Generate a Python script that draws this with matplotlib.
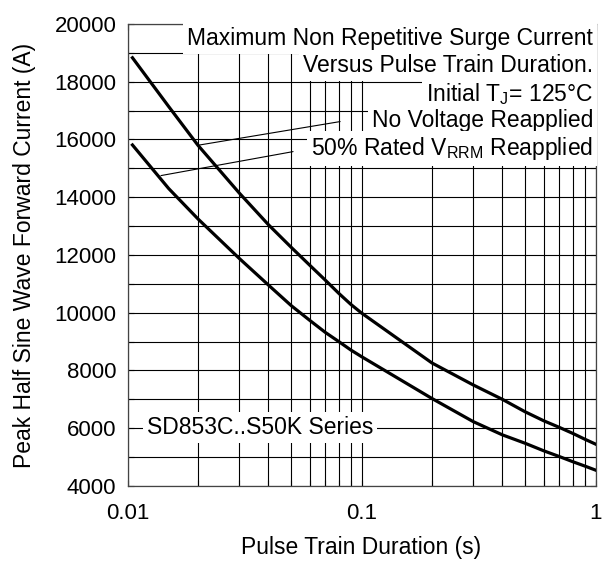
import matplotlib
matplotlib.use("Agg")
import matplotlib.pyplot as plt
from matplotlib.ticker import FixedLocator, NullFormatter

plt.rcParams['font.family'] = ['Liberation Sans', 'DejaVu Sans']
plt.rcParams['mathtext.default'] = 'regular'

# pulse train duration (s)
duration = [0.0105, 0.015, 0.02, 0.03, 0.04, 0.05, 0.06, 0.07, 0.08, 0.09,
            0.1, 0.2, 0.3, 0.4, 0.5, 0.6, 0.7, 0.8, 0.9, 1.0]
# peak current (A), no voltage reapplied
no_voltage = [18830, 17140, 15800, 14150, 13050, 12270, 11650, 11130, 10670, 10290,
              9990, 8260, 7500, 7000, 6570, 6260, 6030, 5820, 5620, 5450]
# peak current (A), 50% rated VRRM reapplied
half_vrrm = [15810, 14300, 13250, 11885, 10960, 10250, 9740, 9320, 9000, 8710,
             8480, 7030, 6230, 5770, 5480, 5220, 5020, 4840, 4690, 4550]

x_ticks = [0.01, 0.1, 1]
x_labels = ["0.01", "0.1", "1"]
y_ticks = [4000, 6000, 8000, 10000, 12000, 14000, 16000, 18000, 20000]

fs = 16.5

fig, ax = plt.subplots(figsize=(6.13, 5.63), dpi=100)
fig.subplots_adjust(left=0.208, right=0.9715, bottom=0.1368, top=0.9574)

ax.set_xscale('log')
ax.set_xlim(0.01, 1)
ax.set_ylim(4000, 20000)

ax.xaxis.set_major_locator(FixedLocator(x_ticks))
ax.set_xticklabels(x_labels)
ax.xaxis.set_minor_locator(FixedLocator([m * d for d in (0.01, 0.1) for m in range(2, 10)]))
ax.xaxis.set_minor_formatter(NullFormatter())
ax.set_yticks(y_ticks)
ax.yaxis.set_minor_locator(FixedLocator(range(5000, 20000, 2000)))

ax.grid(True, which='both', color='black', linewidth=0.8)
ax.tick_params(which='both', direction='in', top=True, right=True, labelsize=16,
               length=4, width=0.8)
ax.tick_params(axis='x', pad=12)
ax.tick_params(axis='y', pad=8)
for s in ax.spines.values():
    s.set_linewidth(0.9)
    s.set_color('#444444')

ax.plot(duration, no_voltage, color='black', linewidth=2.3, zorder=3)
ax.plot(duration, half_vrrm, color='black', linewidth=2.3, zorder=3)

ax.set_xlabel("Pulse Train Duration (s)", fontsize=fs, labelpad=9)
ax.set_ylabel("Peak Half Sine Wave Forward Current (A)", fontsize=fs, labelpad=13)

box = dict(facecolor='white', edgecolor='none', pad=3)
right_x = 0.995
rows = [
    (19500, "Maximum Non Repetitive Surge Current"),
    (18550, "Versus Pulse Train Duration."),
    (17580, r"Initial T$_J$= 125°C"),
    (16650, "No Voltage Reapplied"),
    (15700, r"50% Rated V$_{RRM}$ Reapplied"),
]
for y, s in rows:
    ax.text(right_x, y, s, ha='right', va='center', fontsize=fs,
            transform=ax.get_yaxis_transform(), bbox=box, zorder=4)

# leader lines from curves to labels
ax.annotate("", xy=(duration[2], no_voltage[2]), xytext=(0.081, 16620),
            arrowprops=dict(arrowstyle='-', color='black', lw=0.8, shrinkA=0, shrinkB=0), zorder=5)
ax.annotate("", xy=(0.0139, 14750), xytext=(0.051, 15580),
            arrowprops=dict(arrowstyle='-', color='black', lw=0.8, shrinkA=0, shrinkB=0), zorder=5)

ax.text(0.0121, 6030, "SD853C..S50K Series", ha='left', va='center', fontsize=fs,
        bbox=box, zorder=4)

fig.savefig("out.png", dpi=100, facecolor='white')
